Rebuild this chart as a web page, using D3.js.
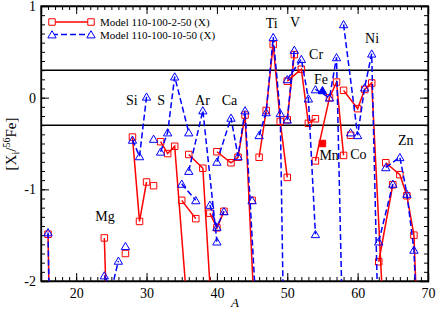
<!DOCTYPE html>
<html>
<head>
<meta charset="utf-8">
<script src="https://d3js.org/d3.v7.min.js"></script>
<style>
body { margin: 0; background: #fff; }
text { font-family: "Liberation Serif", "Times New Roman", serif; fill: #000; }
</style>
</head>
<body>
<script>
// isotopes grouped by element, lines join isotopes of one element
const elements = ["O", "Mg", "Al", "Si", "P", "S", "Cl", "Ar", "K", "Ca", "Sc", "Ti", "V", "Cr", "Mn", "Fe", "Co", "Ni", "Cu", "Zn"];
const isotopes = [[16, 17, 18], [24, 25, 26], [27], [28, 29, 30], [31], [32, 33, 34, 36], [35, 37], [36, 38, 40], [39, 40, 41],
  [40, 42, 43, 44, 46, 48], [45], [46, 47, 48, 49, 50], [50, 51], [50, 52, 53, 54], [55], [54, 56, 57, 58], [59],
  [58, 60, 61, 62, 64], [63, 65], [64, 66, 67, 68, 70]];
// Model 110-100-2-50 (X)
const model2 = [[-1.49, -6, -5], [-1.53, -4, -3.5], [-1.70], [-0.43, -1.35, -0.92], [-0.96], [-0.48, -0.61, -0.53, -2.5],
  [-1.12, -1.32], [-0.62, -0.77, -3.3], [-1.26, -1.42, -1.24], [-0.59, -0.71, -0.65, -0.19, -3.45, -4],
  [-1.12], [-0.65, -0.14, 0.58, -0.26, -0.87], [-0.24, 0.47], [0.18, 0.31, -0.28, -0.23], [-0.50],
  [-0.69, 0, 0.17, -0.63], [-0.41], [0.08, -0.12, 0.09, 0.16, -2.9], [-1.79, -0.95], [-0.71, -0.84, -1.07, -1.50, -5.5]];
// Model 110-100-10-50 (X)
const model10 = [[-1.47, -6, -5], [-1.94, -2.1, -1.78], [-1.62], [-0.46, -0.64, 0.01], [-0.45], [-0.59, -0.38, 0.23, -0.38],
  [-0.94, -1.12], [-0.80, -0.14, -1.57], [-1.17, -1.41, -1.24], [-0.70, -0.22, -0.64, -0.14, -2.9, -4],
  [-1.12], [-0.41, -0.16, 0.66, -0.17, -5], [-0.24, 0.52], [0.20, 0.42, -0.01, -1.49], [0.08],
  [0.09, 0, 0.44, -3.0], [-0.38], [0.80, -0.41, 0.11, 0.48, -6], [-1.57, -0.94], [-0.76, -0.65, -1.05, -1.66, -5.5]];
const filledElement = "Mn";

const labelNames = ["Mg", "Si", "S", "Ar", "Ca", "Ti", "V", "Cr", "Fe", "Ni", "Mn", "Co", "Zn"];
const labelA = [24.1, 27.9, 32.07, 37.95, 41.8, 47.8, 51.1, 54.1, 54.8, 62.05, 55.95, 60.1, 66.85];
const labelV = [-1.29, -0.03, -0.03, -0.02, -0.02, 0.82, 0.83, 0.48, 0.20, 0.65, -0.63, -0.61, -0.46];

const xTicks = [20, 30, 40, 50, 60, 70];
const yTicks = [-2, -1, 0, 1];
const refLines = [0.3, -0.3];
const seriesNames = ["Model 110-100-2-50 (X)", "Model 110-100-10-50 (X)"];

const W = 436, H = 311;
const x = d3.scaleLinear().domain([15, 70]).range([41, 428]);
const y = d3.scaleLinear().domain([-2, 1]).range([281, 6]);

const svg = d3.select("body").append("svg").attr("width", W).attr("height", H);

svg.append("clipPath").attr("id", "clip")
  .append("rect").attr("x", 41).attr("y", 6).attr("width", 387).attr("height", 275);

// reference lines
svg.append("g").selectAll("line").data(refLines).join("line")
  .attr("x1", x(15)).attr("x2", x(70))
  .attr("y1", d => y(d)).attr("y2", d => y(d))
  .attr("stroke", "#000").attr("stroke-width", 1.5);

// axes, ticks pointing inward on all four sides
function noDomain(g) { g.call(s => s.selectAll(".domain").remove()); }
const xMinor = d3.range(16, 70);
const yMinor = d3.range(-19, 10).map(d => d / 10);

svg.append("g").attr("transform", "translate(0,281)")
  .call(d3.axisBottom(x).tickValues(xMinor).tickSize(-4).tickFormat("")).call(noDomain);
svg.append("g").attr("transform", "translate(0,6)")
  .call(d3.axisTop(x).tickValues(xMinor).tickSize(-4).tickFormat("")).call(noDomain);
svg.append("g").attr("transform", "translate(41,0)")
  .call(d3.axisLeft(y).tickValues(yMinor).tickSize(-4).tickFormat("")).call(noDomain);
svg.append("g").attr("transform", "translate(428,0)")
  .call(d3.axisRight(y).tickValues(yMinor).tickSize(-4).tickFormat("")).call(noDomain);

const xb = svg.append("g").attr("transform", "translate(0,281)")
  .call(d3.axisBottom(x).tickValues(xTicks).tickSize(-8).tickPadding(7));
svg.append("g").attr("transform", "translate(0,6)")
  .call(d3.axisTop(x).tickValues(xTicks).tickSize(-8).tickFormat(""));
const yl = svg.append("g").attr("transform", "translate(41,0)")
  .call(d3.axisLeft(y).tickValues(yTicks).tickSize(-8).tickPadding(5).tickFormat(d3.format("d")));
svg.append("g").attr("transform", "translate(428,0)")
  .call(d3.axisRight(y).tickValues(yTicks).tickSize(-8).tickFormat(""));

svg.selectAll(".tick line").attr("stroke", "#000");
svg.selectAll(".domain").attr("stroke", "#000").attr("stroke-width", 1.3);
xb.selectAll("text").attr("font-size", 14).attr("font-family", "Liberation Serif");
yl.selectAll("text").attr("font-size", 14).attr("font-family", "Liberation Serif").text(d => d < 0 ? "-" + (-d) : d);

// frame
svg.append("rect").attr("x", 41).attr("y", 6).attr("width", 387).attr("height", 275)
  .attr("fill", "none").attr("stroke", "#000").attr("stroke-width", 1.3);

const line = d3.line().x(d => x(d[0])).y(d => y(d[1]));
const sqSym = d3.symbol().type(d3.symbolSquare).size(42);
const triSym = d3.symbol().type(d3.symbolTriangle).size(30);

function drawSeries(vals, color, dash, sym) {
  const g = svg.append("g").attr("clip-path", "url(#clip)");
  const groups = elements.map((el, i) => ({ el, pts: isotopes[i].map((a, j) => [a, vals[i][j]]) }));
  g.selectAll("path.ln").data(groups.filter(d => d.pts.length > 1)).join("path")
    .attr("class", "ln")
    .attr("d", d => line(d.pts))
    .attr("fill", "none").attr("stroke", color).attr("stroke-width", 1.5)
    .attr("stroke-dasharray", dash);
  const pts = groups.flatMap(d => d.pts.map(p => ({ el: d.el, a: p[0], v: p[1] })))
    .filter(d => d.v >= -2.05);
  g.selectAll("path.mk").data(pts).join("path")
    .attr("class", "mk")
    .attr("d", sym)
    .attr("transform", d => `translate(${x(d.a)},${y(d.v) + (sym === triSym ? 1 : 0)})`)
    .attr("fill", d => d.el === filledElement ? color : "none")
    .attr("stroke", color).attr("stroke-width", 1);
}
drawSeries(model2, "#ff0000", null, sqSym);
drawSeries(model10, "#0000ff", "6,3", triSym);

// element labels
svg.append("g").selectAll("text").data(labelNames).join("text")
  .attr("x", (d, i) => x(labelA[i])).attr("y", (d, i) => y(labelV[i]) + 5)
  .attr("text-anchor", "middle").attr("font-size", 14)
  .text(d => d);

// legend
const leg = svg.append("g");
const legY = [22, 34.5];
const legColor = ["#ff0000", "#0000ff"];
const legDash = [null, "6,3"];
const legSym = [sqSym, triSym];
seriesNames.forEach((name, i) => {
  leg.append("line").attr("x1", 52).attr("x2", 91).attr("y1", legY[i]).attr("y2", legY[i])
    .attr("stroke", legColor[i]).attr("stroke-width", 1.5).attr("stroke-dasharray", legDash[i]);
  [52, 91].forEach(px => leg.append("path").attr("d", legSym[i])
    .attr("transform", `translate(${px},${legY[i] + (i ? 1 : 0)})`)
    .attr("fill", "#fff").attr("stroke", legColor[i]).attr("stroke-width", 1));
  leg.append("text").attr("x", 100).attr("y", legY[i] + 4).attr("font-size", 11).text(name);
});

// axis titles
svg.append("text").attr("x", 235).attr("y", 307).attr("text-anchor", "middle")
  .attr("font-size", 13).attr("font-style", "italic").text("A");

const yt = svg.append("text").attr("transform", "translate(16,144) rotate(-90)")
  .attr("text-anchor", "middle").attr("font-size", 15);
yt.append("tspan").text("[X");
yt.append("tspan").attr("font-size", 10).attr("dy", 3).text("i");
yt.append("tspan").attr("dy", -3).text("/");
yt.append("tspan").attr("font-size", 10).attr("dy", -6).text("56");
yt.append("tspan").attr("dy", 6).text("Fe]");
</script>
</body>
</html>
